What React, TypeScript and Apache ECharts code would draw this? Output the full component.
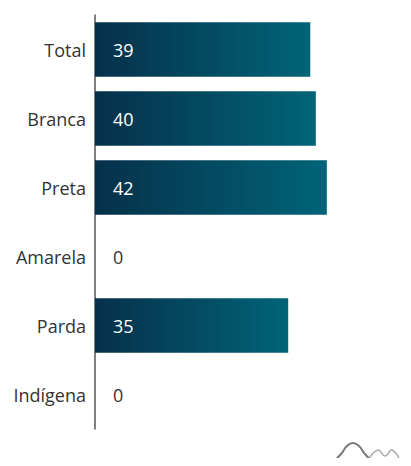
import React, { useEffect, useRef } from "react";
import * as echarts from "echarts";

const categories = ["Total", "Branca", "Preta", "Amarela", "Parda", "Indígena"];
const values = [39, 40, 42, 0, 35, 0];

export default function App() {
  const ref = useRef<HTMLDivElement>(null);
  useEffect(() => {
    if (!ref.current) return;
    const chart = echarts.init(ref.current, null, { renderer: "svg" });
    const grad = new echarts.graphic.LinearGradient(0, 0, 1, 0, [
      { offset: 0, color: "#06304a" },
      { offset: 1, color: "#016478" },
    ]);
    const font = "'Open Sans', 'Noto Sans', sans-serif";
    chart.setOption({
      animation: false,
      grid: { left: 87, top: 7, width: 276, height: 414, containLabel: false },
      xAxis: {
        type: "value",
        min: 0,
        max: 50,
        show: false,
      },
      yAxis: {
        type: "category",
        data: categories,
        inverse: true,
        axisLine: { show: true, lineStyle: { color: "#555", width: 1.5 } },
        axisTick: { show: false },
        axisLabel: {
          color: "#333",
          fontSize: 18,
          fontFamily: font,
          margin: 9,
        },
        splitLine: { show: false },
      },
      series: [
        {
          type: "bar",
          barCategoryGap: "21%",
          data: values.map((v) => ({
            value: v,
            label: { color: v === 0 ? "#333" : "#ffffff" },
          })),
          itemStyle: { color: grad },
          label: {
            show: true,
            position: "insideLeft",
            distance: 18,
            fontSize: 18,
            fontFamily: font,
          },
        },
      ],
      graphic: [
        {
          type: "line",
          shape: { x1: 319, y1: 455, x2: 403, y2: 455 },
          style: { stroke: "#bbb", lineWidth: 1.5 },
        },
        {
          type: "polyline",
          shape: {
            points: [
              [324, 455],
              [333, 446],
              [339, 438],
              [345, 435],
              [351, 438],
              [357, 446],
              [366, 455],
            ],
            smooth: 0.5,
          },
          style: { stroke: "#777", lineWidth: 2, fill: null },
        },
        {
          type: "polyline",
          shape: {
            points: [
              [361, 451],
              [370, 442],
              [377, 448],
              [384, 442],
              [393, 455],
            ],
            smooth: 0.5,
          },
          style: { stroke: "#aaa", lineWidth: 1.5, fill: null },
        },
      ],
    });
    return () => chart.dispose();
  }, []);
  return <div ref={ref} style={{ width: 395, height: 450 }} />;
}
